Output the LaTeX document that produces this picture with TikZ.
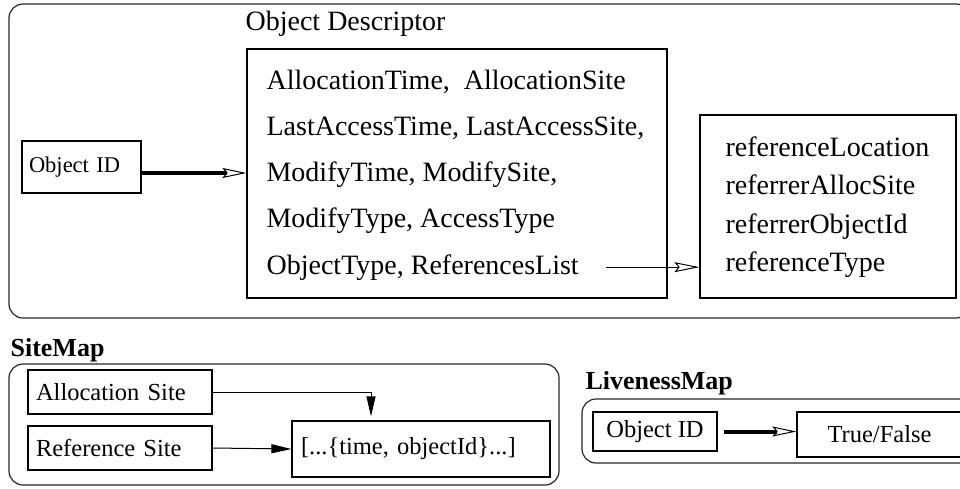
\documentclass[tikz,border=0pt]{standalone}
\usepackage{fontspec}
\setmainfont{Liberation Serif}
\usetikzlibrary{arrows.meta}
\usetikzlibrary{positioning}

\tikzset{
  frame/.style={draw=black!85, rounded corners=14pt},
  table/.style={draw, inner sep=0pt},
  keybox/.style={draw, inner xsep=8pt, inner ysep=0pt, align=left, font=\fontsize{24.5}{26}\selectfont},
  field/.style={anchor=base west, inner sep=0pt, font=\fontsize{28}{30}\selectfont},
  maplabel/.style={anchor=west, inner sep=0pt, font=\bfseries\fontsize{26}{28}\selectfont},
  fatarrow/.style={line width=4pt, -{Stealth[open, length=24pt, width=10pt, inset=4pt, line width=1pt]}},
  refarrow/.style={line width=1pt, -{Stealth[open, length=25pt, width=10pt, inset=4pt, line width=1pt]}},
  sitearrow/.style={line width=1pt, -{Triangle[length=20pt, width=9pt]}},
}

\begin{document}
\begin{tikzpicture}[x=1pt, y=-1pt, line width=1.2pt]
  \useasboundingbox (0,0) rectangle (960,488);
  \clip (0,0) rectangle (960,488);

  % object descriptor table
  \draw[frame] (9,4) rectangle (970,318);
  \node[field, anchor=west] (title) at (245,24) {Object Descriptor};
  \node[table, minimum width=420pt, minimum height=249pt] (desc) at (457,173.5) {};
  \foreach \t [count=\i] in {{AllocationTime,~ AllocationSite}, {LastAccessTime, LastAccessSite,},
      {ModifyTime, ModifySite,}, {ModifyType, AccessType}, {ObjectType, ReferencesList}}
    \node[field] (d\i) at (266,{89+(\i-1)*46.25}) {\t};

  \node[table, minimum width=256pt, minimum height=183pt] (ref) at (828,206.5) {};
  \foreach \t [count=\i] in {referenceLocation, referrerAllocSite, referrerObjectId, referenceType}
    \node[field] (r\i) at (725,{156+(\i-1)*38.5}) {\t};

  \node[keybox, text width=105pt, inner xsep=7pt, minimum height=52pt,
        font=\fontsize{22.5}{24}\selectfont] (objid) at (81.5,167) {Object ID};

  \draw[fatarrow] ([yshift=-6pt]objid.east) -- ([yshift=-6pt]objid.east -| desc.west);
  \draw[refarrow] ([xshift=27pt]d5.east) -- (d5.east -| ref.west);

  % site map
  \node[maplabel] (sitemap) at (10,350) {SiteMap};
  \draw[frame] (9,364) rectangle (559,485);
  \node[keybox, text width=168pt, minimum height=44pt] (alloc) at (120,392) {Allocation Site};
  \node[keybox, text width=168pt, minimum height=44pt] (rsite) at (120,448) {Reference Site};
  \node[keybox, text width=240pt, inner xsep=9pt, minimum height=56pt] (times) at (421,449) {[...\{time, objectId\}...]};

  \draw[sitearrow] (alloc.east) -| ([xshift=-50pt, yshift=4pt]times.north);
  \draw[sitearrow] (rsite.east) -- (times.west);

  % liveness map
  \node[maplabel] (liveness) at (585,383) {LivenessMap};
  \draw[frame] (582,399) rectangle (985,463);
  \node[keybox, minimum width=124pt, minimum height=39pt, align=center] (lobj) at (655,431.5) {Object ID};
  \node[keybox, minimum width=165pt, minimum height=45pt, align=center] (live) at (879.5,434.5) {True/False};

  \draw[fatarrow] ([xshift=6pt]lobj.east) -- (lobj.east -| live.west);
\end{tikzpicture}
\end{document}
